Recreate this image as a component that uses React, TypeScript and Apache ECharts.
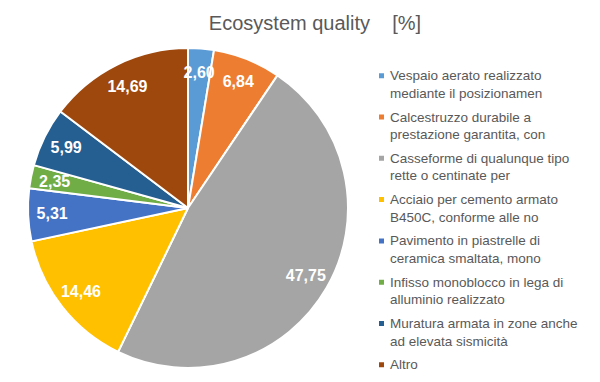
import React, { useEffect, useRef } from 'react';
import * as echarts from 'echarts';

const titleText = 'Ecosystem quality\u00a0\u00a0\u00a0\u00a0[%]';
const categories = [
  'Vespaio aerato realizzato\nmediante il posizionamen',
  'Calcestruzzo durabile a\nprestazione garantita, con',
  'Casseforme di qualunque tipo\nrette o centinate per',
  'Acciaio per cemento armato\nB450C, conforme alle no',
  'Pavimento in piastrelle di\nceramica smaltata, mono',
  'Infisso monoblocco in lega di\nalluminio realizzato',
  'Muratura armata in zone anche\nad elevata sismicità',
  'Altro',
];
const values = [2.6, 6.84, 47.75, 14.46, 5.31, 2.35, 5.99, 14.69];
const colors = ['#5B9BD5', '#ED7D31', '#A5A5A5', '#FFC000', '#4472C4', '#70AD47', '#255E91', '#9E480E'];

const FONT = '"Liberation Sans", Arial, sans-serif';
const LH = 17.6;

export default function App() {
  const ref = useRef<HTMLDivElement>(null);
  useEffect(() => {
    if (!ref.current) return;
    const chart = echarts.init(ref.current, undefined, { renderer: 'svg' });
    const data = categories.map((name, i) => ({
      name,
      value: values[i],
      itemStyle: { color: colors[i] },
    }));
    const labelData = categories.map((name, i) => ({ name, value: values[i] }));
    chart.setOption({
      animation: false,
      backgroundColor: '#ffffff',
      title: {
        text: titleText,
        left: 310,
        textAlign: 'center',
        top: 8,
        textStyle: { fontFamily: FONT, fontSize: 20, fontWeight: 'normal', color: '#595959' },
      },
      legend: {
        orient: 'vertical',
        left: 377,
        top: 49.3,
        height: 380,
        padding: 0,
        itemGap: -11.5,
        icon: 'rect',
        itemWidth: 7,
        itemHeight: 7,
        data: categories,
        formatter: (name: string) => (name.includes('\n') ? '\n' + name : '\n' + name + '\n\u00a0'),
        textStyle: {
          fontFamily: FONT,
          fontSize: 13.5,
          color: '#595959',
          lineHeight: LH,
        },
      },
      series: [
        {
          type: 'pie',
          center: [188, 208],
          radius: [0, 160],
          startAngle: 90,
          clockwise: true,
          data,
          label: { show: false },
          labelLine: { show: false },
          itemStyle: { borderColor: '#ffffff', borderWidth: 2 },
          emphasis: { disabled: true },
        },
        {
          type: 'pie',
          center: [188, 208],
          radius: [106, 160],
          startAngle: 90,
          clockwise: true,
          silent: true,
          data: labelData,
          itemStyle: { color: 'rgba(0,0,0,0)', borderWidth: 0 },
          label: {
            show: true,
            position: 'inside',
            formatter: (p: any) => p.value.toFixed(2).replace('.', ','),
            color: '#ffffff',
            fontFamily: FONT,
            fontWeight: 'bold',
            fontSize: 16,
          },
          labelLine: { show: false },
          emphasis: { disabled: true },
        },
      ],
    });
    return () => chart.dispose();
  }, []);
  return <div ref={ref} style={{ position: 'fixed', left: 0, top: 0, width: 600, height: 382 }} />;
}
